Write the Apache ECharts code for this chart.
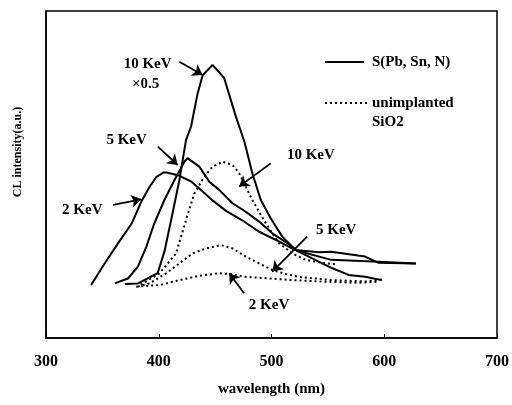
<!DOCTYPE html>
<html>
<head>
<meta charset="utf-8">
<script src="https://cdn.jsdelivr.net/npm/echarts@6/dist/echarts.min.js"></script>
<style>
  html, body { margin: 0; padding: 0; background: #fff; }
  #chart { width: 512px; height: 405px; }
</style>
</head>
<body>
<div id="chart"></div>
<script>
// x ticks
const xTicks = [300, 400, 500, 600, 700];

// S(Pb, Sn, N) - solid curves
const wlSolid2 = [340, 352, 364, 376, 384.5, 392, 398, 404, 407, 417, 429, 440, 448, 460, 474, 489, 507, 521, 542, 553, 583, 595, 628];
const valSolid2 = [16.2, 22.8, 29, 35, 41.7, 46.3, 49.3, 50.6, 50.6, 49.8, 47.8, 44.5, 42, 38.8, 36, 32.5, 29.5, 26.9, 26.2, 26.4, 24.9, 23, 22.8];

const wlSolid5 = [361, 372.7, 381.5, 389, 396, 405, 414, 422.7, 425.6, 436, 444.8, 453.6, 465.4, 477.2, 489, 500.7, 512, 522.8, 553, 595, 628];
const valSolid5 = [16.7, 18.2, 21.8, 27.9, 35, 42.2, 48.3, 53.9, 55, 52.4, 47.8, 45.3, 41.2, 38.6, 35.6, 32, 29.5, 26.7, 23.9, 23.3, 22.8];

const wlSolid10 = [369.8, 381.5, 399, 405, 411, 418.3, 424.2, 428.6, 434.5, 439, 447.7, 458, 468.4, 476, 483, 490.5, 499.3, 509.5, 521.4, 533, 550.8, 568.4, 583, 597.8];
const valSolid10 = [16.5, 16.7, 19.8, 26.4, 36.1, 48.3, 60.6, 64.6, 74.8, 80.4, 83.5, 79.5, 67.7, 60, 50.4, 42.2, 36.6, 31, 26.9, 24.9, 21.8, 19.3, 18.7, 17.7];

// unimplanted SiO2 - dotted curves
const wlDot10 = [384, 400.7, 415.4, 424.2, 431.6, 440.4, 447.7, 456.6, 465.4, 471.3, 477.2, 483, 494.9, 506.6, 518.4, 530.2, 545, 557];
const valDot10 = [16.3, 19.8, 25.9, 36.1, 44.2, 49.3, 52.4, 53.9, 52.9, 50.4, 46.3, 42.2, 35.1, 29, 25.9, 23.9, 23, 22.5];

const wlDot5 = [381.5, 391.8, 406.6, 418.3, 430.1, 441.9, 455.1, 465.4, 477.2, 489, 500.7, 512.5, 524.3, 553.7, 583, 597.8];
const valDot5 = [15.7, 16.7, 19.8, 22.8, 25.9, 27.4, 28.4, 27.4, 24.9, 22.8, 20.8, 19.6, 18.7, 17.7, 17.3, 17.9];

const wlDot2 = [380, 400.7, 418.3, 436, 453.6, 462.5, 477.2, 494.9, 518.4, 547.9, 577.3, 595];
const valDot2 = [15.7, 16.2, 17.7, 19, 19.8, 19.6, 18.7, 18.3, 17.7, 17.2, 16.9, 17.2];

// annotations (data coords)
const labelTexts = ["10 KeV", "\u00d70.5", "5 KeV", "2 KeV", "10 KeV", "5 KeV", "2 KeV"];
const labelX = [390.1, 388.3, 371.5, 332.2, 534.9, 557.4, 497.8];
const labelY = [83.9, 77.7, 60.6, 39.1, 55.8, 33, 10.1];

const arrowFromX = [418.3, 399.2, 359.4, 499.3, 531.6, 475.7];
const arrowFromY = [84.5, 58.5, 40.7, 53.4, 31, 13.7];
const arrowToX = [438.9, 416.8, 384.5, 471.3, 500.7, 462.5];
const arrowToY = [80.4, 52.9, 42.4, 46.3, 20.3, 19.8];

const FONT = "Liberation Serif";
const zip = (xs, ys) => xs.map((x, i) => [x, ys[i]]);

const solidStyle = { color: "#000", width: 2, type: "solid" };
const dotStyle = { color: "#000", width: 2, type: [2, 3] };

function curve(name, xs, ys, style) {
    return {
        type: "line",
        name: name,
        data: zip(xs, ys),
        showSymbol: false,
        symbol: "none",
        smooth: false,
        lineStyle: style,
        itemStyle: { color: "#000" },
        silent: true,
    };
}

const chart = echarts.init(document.getElementById("chart"), null, { renderer: "canvas" });

const series = [
    curve("S(Pb, Sn, N)", wlSolid2, valSolid2, solidStyle),
    curve("S(Pb, Sn, N)", wlSolid5, valSolid5, solidStyle),
    curve("S(Pb, Sn, N)", wlSolid10, valSolid10, solidStyle),
    curve("unimplanted SiO2", wlDot10, valDot10, dotStyle),
    curve("unimplanted SiO2", wlDot5, valDot5, dotStyle),
    curve("unimplanted SiO2", wlDot2, valDot2, dotStyle),
];

// arrows + labels hung on the first series
series[0].markLine = {
    silent: true,
    animation: false,
    symbol: ["none", "arrow"],
    symbolSize: 10,
    label: { show: false },
    itemStyle: { color: "#000" },
    lineStyle: { color: "#000", width: 1.8, type: "solid" },
    data: arrowFromX.map((x, i) => [
        { coord: [x, arrowFromY[i]] },
        { coord: [arrowToX[i], arrowToY[i]] },
    ]),
};
series[0].markPoint = {
    silent: true,
    animation: false,
    symbol: "rect",
    symbolSize: 1,
    itemStyle: { color: "transparent" },
    label: {
        show: true,
        position: "inside",
        color: "#000",
        fontFamily: FONT,
        fontWeight: "bold",
        fontSize: 15,
        formatter: (p) => p.name,
    },
    data: labelTexts.map((t, i) => ({ name: t, coord: [labelX[i], labelY[i]] })),
};

chart.setOption({
    animation: false,
    backgroundColor: "#fff",
    grid: {
        left: 46, right: 13, top: 11, bottom: 67,
        show: true, borderColor: "#000", borderWidth: 1.5,
    },
    xAxis: {
        type: "value",
        min: xTicks[0],
        max: xTicks[xTicks.length - 1],
        interval: 100,
        name: "wavelength (nm)",
        nameLocation: "middle",
        nameGap: 44,
        nameTextStyle: { color: "#000", fontFamily: FONT, fontWeight: "bold", fontSize: 15 },
        axisLine: { show: true, lineStyle: { color: "#000", width: 1.5 } },
        axisTick: { show: true, inside: true, length: 4, lineStyle: { color: "#000" } },
        axisLabel: { color: "#000", fontFamily: FONT, fontWeight: "bold", fontSize: 16, margin: 16 },
        splitLine: { show: false },
    },
    yAxis: {
        type: "value",
        min: 0,
        max: 100,
        axisLine: { show: true, lineStyle: { color: "#000", width: 1.5 } },
        axisTick: { show: false },
        axisLabel: { show: false },
        splitLine: { show: false },
    },
    graphic: [
        {
            type: "text", x: 18, y: 152, rotation: Math.PI / 2,
            style: {
                text: "CL intensity(a.u.)", fill: "#000",
                font: "bold 12px 'Liberation Serif'", textAlign: "center", textVerticalAlign: "middle",
            },
        },
        { type: "line", shape: { x1: 325, y1: 62, x2: 364, y2: 62 }, style: { stroke: "#000", lineWidth: 2 } },
        {
            type: "text", x: 372, y: 62,
            style: { text: "S(Pb, Sn, N)", fill: "#000", font: "bold 15px 'Liberation Serif'", textVerticalAlign: "middle" },
        },
        { type: "line", shape: { x1: 325, y1: 103, x2: 370, y2: 103 }, style: { stroke: "#000", lineWidth: 2, lineDash: [2, 3] } },
        {
            type: "text", x: 372, y: 94,
            style: { text: "unimplanted\nSiO2", fill: "#000", font: "bold 15px 'Liberation Serif'", lineHeight: 19, textVerticalAlign: "top" },
        },
    ],
    series: series,
});
</script>
</body>
</html>
